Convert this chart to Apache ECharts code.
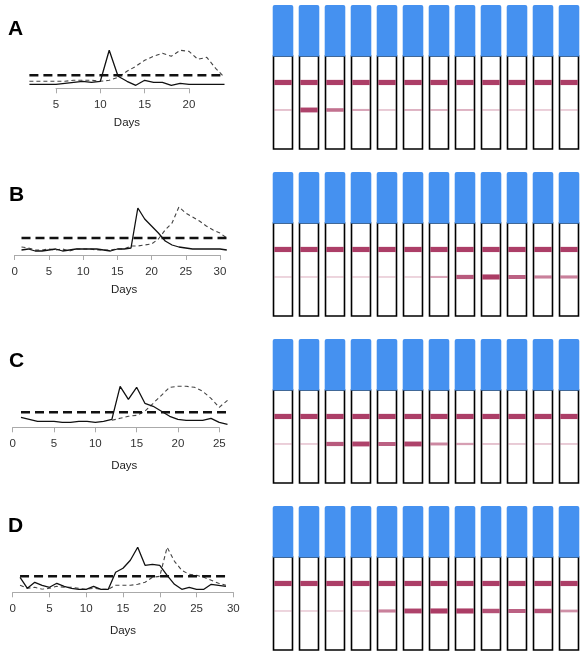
<!DOCTYPE html>
<html>
<head>
<meta charset="utf-8">
<script src="https://cdn.jsdelivr.net/npm/echarts@6/dist/echarts.min.js"></script>
<style>
html,body{margin:0;padding:0;background:#fff;}
#chart{width:583px;height:657px;}
</style>
</head>
<body>
<div id="chart"></div>
<script>
// ---------- DATA ----------
const daysA = [2,3,4,5,6,7,8,9,10,11,12,13,14,15,16,17,18,19,20,21,22,23,24];
const solidA = [0.1,0.1,0.1,0.1,0.2,0.3,0.4,0.3,0.4,3.5,0.9,0.4,0.0,0.5,0.3,0.3,0.0,0.2,0.1,0.1,0.1,0.1,0.1];
const dashedA = [0.4,0.4,0.4,0.4,0.4,0.5,0.5,0.5,0.4,0.5,0.8,1.4,1.9,2.5,2.9,3.2,2.9,3.5,3.4,2.6,2.8,1.7,0.8];
const thresholdA = 1.0;
const ticksA = [5,10,15,20];

const daysB = [1,2,3,4,5,6,7,8,9,10,11,12,13,14,15,16,17,18,19,20,21,22,23,24,25,26,27,28,29,30,31];
const solidB = [0.2,0.3,0.1,0.1,0.2,0.3,0.1,0.2,0.3,0.3,0.3,0.3,0.2,0.1,0.3,0.3,0.4,4.4,3.3,2.6,1.9,1.1,0.7,0.5,0.4,0.3,0.3,0.3,0.3,0.3,0.2];
const dashedB = [0.5,0.4,0.2,0.2,0.3,0.2,0.3,0.1,0.3,0.3,0.3,0.2,0.2,0.2,0.3,0.3,0.6,0.6,0.7,0.8,1.3,2.2,2.9,4.5,3.9,3.5,3.1,2.6,2.2,1.9,1.4];
const thresholdB = 1.4;
const ticksB = [0,5,10,15,20,25,30];

const daysC = [1,2,3,4,5,6,7,8,9,10,11,12,13,14,15,16,17,18,19,20,21,22,23,24,25,26];
const solidC = [0.7,0.5,0.3,0.3,0.3,0.2,0.2,0.3,0.3,0.2,0.3,0.5,3.8,2.5,3.7,2.1,1.8,1.3,0.8,0.5,0.4,0.4,0.4,0.6,0.2,0.0];
const dashedC = [null,null,null,null,null,null,null,null,null,null,null,0.4,0.6,0.8,0.9,1.3,2.1,2.9,3.7,3.8,3.8,3.7,3.3,2.6,1.7,2.4];
const thresholdC = 1.2;
const ticksC = [0,5,10,15,20,25];

const daysD = [1,2,3,4,5,6,7,8,9,10,11,12,13,14,15,16,17,18,19,20,21,22,23,24,25,26,27,28,29];
const solidD = [1.2,0.1,0.7,0.4,0.2,0.6,0.3,0.1,0.0,0.0,0.3,0.0,0.0,1.7,2.1,2.9,4.2,2.4,2.5,2.4,1.4,0.5,0.0,0.2,0.0,0.0,0.5,0.4,0.3];
const dashedD = [0.4,0.1,0.2,0.0,0.1,0.3,0.2,0.2,0.1,0.0,0.1,0.0,0.0,0.4,0.4,0.4,0.5,0.7,1.2,1.3,4.2,2.8,1.9,1.5,1.4,1.2,0.9,0.6,0.4];
const thresholdD = 1.3;
const ticksD = [0,5,10,15,20,25,30];

// test strips: 12 strips per row, test-line intensity (0..1); control line always present
const stripLabels = ['1','2','3','4','5','6','7','8','9','10','11','12'];
const testA = [0.15,0.9,0.6,0.25,0.12,0.2,0.2,0.2,0.12,0.1,0.1,0.1];
const testB = [0.08,0.08,0.08,0.08,0.08,0.08,0.25,0.75,0.95,0.7,0.5,0.5];
const testC = [0.1,0.1,0.75,0.9,0.7,0.9,0.45,0.3,0.15,0.12,0.12,0.12];
const testD = [0.08,0.08,0.08,0.08,0.5,0.9,0.95,0.95,0.8,0.7,0.8,0.4];
const controlA = [1,1,1,1,1,1,1,1,1,1,1,1];
const controlB = [1,1,1,1,1,1,1,1,1,1,1,1];
const controlC = [1,1,1,1,1,1,1,1,1,1,1,1];
const controlD = [1,1,1,1,1,1,1,1,1,1,1,1];

// ---------- LAYOUT ----------
const panels = [
  {label:'A', days:daysA, solid:solidA, dashed:dashedA, thr:thresholdA, ticks:ticksA, test:testA, control:controlA,
   dataLeft:29.4, dataWidth:195.1, zeroY:85.3, yMax:4, axisLeft:56, axisWidth:133, axisY:88.3, letterTop:19, letterLeft:8, nameGap:32, stripTop:5},
  {label:'B', days:daysB, solid:solidB, dashed:dashedB, thr:thresholdB, ticks:ticksB, test:testB, control:controlB,
   dataLeft:21.5, dataWidth:205.3, zeroY:252, yMax:5, axisLeft:14.7, axisWidth:205.3, axisY:255, letterTop:185, letterLeft:9, nameGap:32, stripTop:172},
  {label:'C', days:daysC, solid:solidC, dashed:dashedC, thr:thresholdC, ticks:ticksC, test:testC, control:controlC,
   dataLeft:21.0, dataWidth:206.5, zeroY:424.3, yMax:4, axisLeft:12.7, axisWidth:206.6, axisY:427.3, letterTop:351, letterLeft:9, nameGap:36, stripTop:339},
  {label:'D', days:daysD, solid:solidD, dashed:dashedD, thr:thresholdD, ticks:ticksD, test:testD, control:controlD,
   dataLeft:20.05, dataWidth:205.9, zeroY:589.3, yMax:5, axisLeft:12.7, axisWidth:220.6, axisY:592.3, letterTop:516, letterLeft:8, nameGap:36, stripTop:506}
];

const FONT = 'Liberation Sans, Arial, Helvetica, sans-serif';
const BLUE = '#4591f0';
const MAG = '#a8345f';

const grid = [], xAxis = [], yAxis = [], series = [], title = [];

panels.forEach((p) => {
  title.push({text:p.label, left:p.letterLeft, top:p.letterTop, padding:0,
    textStyle:{fontFamily:FONT, fontWeight:'bold', fontSize:21, color:'#000'}});

  // data grid
  const gData = grid.length;
  grid.push({left:p.dataLeft, width:p.dataWidth, top:p.zeroY - p.yMax*10, height:p.yMax*10});
  xAxis.push({type:'value', gridIndex:gData, min:p.days[0], max:p.days[p.days.length-1],
    axisLine:{show:false}, axisTick:{show:false}, axisLabel:{show:false}, splitLine:{show:false},
    name:'Days', nameLocation:'middle', nameGap:p.nameGap,
    nameTextStyle:{fontFamily:FONT, fontSize:11.5, color:'#222'}});
  yAxis.push({type:'value', gridIndex:gData, min:0, max:p.yMax, show:false, splitLine:{show:false}});

  const solidData = p.days.map((d,i)=>[d,p.solid[i]]);
  const dashedData = p.days.map((d,i)=>[d,p.dashed[i]]);
  const thrData = [[p.days[0],p.thr],[p.days[p.days.length-1],p.thr]];
  series.push({type:'line', xAxisIndex:gData, yAxisIndex:gData, data:thrData, symbol:'none', silent:true,
    lineStyle:{color:'#111', width:2.5, type:[9,5]}, z:3});
  series.push({type:'line', xAxisIndex:gData, yAxisIndex:gData, data:dashedData, symbol:'none', silent:true,
    lineStyle:{color:'#444', width:1.1, type:[4,3]}, z:2});
  series.push({type:'line', xAxisIndex:gData, yAxisIndex:gData, data:solidData, symbol:'none', silent:true,
    lineStyle:{color:'#111', width:1.3}, z:4});

  // axis grid (R-style axis spanning only the tick range)
  const gAx = grid.length;
  grid.push({left:p.axisLeft, width:p.axisWidth, top:p.axisY - 10, height:10});
  xAxis.push({type:'value', gridIndex:gAx, min:p.ticks[0], max:p.ticks[p.ticks.length-1], interval:5,
    axisLine:{show:true, lineStyle:{color:'#aaa', width:1}},
    axisTick:{show:true, length:5, lineStyle:{color:'#aaa', width:1}},
    axisLabel:{show:true, margin:11, fontFamily:FONT, fontSize:11.5, color:'#333', showMinLabel:true, showMaxLabel:true},
    splitLine:{show:false}});
  yAxis.push({type:'value', gridIndex:gAx, min:0, max:1, show:false, splitLine:{show:false}});

  // strip grid
  const gS = grid.length;
  grid.push({left:270, width:312, top:p.stripTop, height:144});
  xAxis.push({type:'category', gridIndex:gS, data:stripLabels, show:false, boundaryGap:true});
  yAxis.push({type:'value', gridIndex:gS, min:0, max:1, show:false, splitLine:{show:false}});
  const stripData = p.test.map((v,i)=>[i, v, p.control[i]]);
  series.push({type:'custom', xAxisIndex:gS, yAxisIndex:gS, data:stripData, silent:true, clip:false,
    encode:{x:0, y:1},
    renderItem:function(params, api){
      const idx = api.value(0);
      const v = api.value(1);
      const c = api.value(2);
      const cx = api.coord([idx, 0])[0];
      const yTop = api.coord([idx, 1])[1];
      const yBot = api.coord([idx, 0])[1];
      const H = yBot - yTop;
      const w = api.size([1, 0])[0] * 0.73;
      const x0 = cx - w/2;
      const blueH = H * 0.354;
      const ctrlY = yTop + H * 0.538;
      const testY = yTop + H * 0.729;
      const th = 1 + 4.3 * v;
      return {type:'group', children:[
        {type:'rect', shape:{x:x0, y:yTop + blueH, width:w, height:H - blueH},
          style:{fill:'#fff', stroke:'#000', lineWidth:1.6}},
        {type:'rect', shape:{x:x0 - 0.8, y:yTop, width:w + 1.6, height:blueH + 0.5, r:[2,2,0,0]},
          style:{fill:BLUE}},
        {type:'rect', shape:{x:x0 + 0.8, y:ctrlY - 2.6*c, width:w - 1.6, height:5.2*c},
          style:{fill:MAG, opacity:0.95}},
        {type:'rect', shape:{x:x0 + 0.8, y:testY - th/2, width:w - 1.6, height:th},
          style:{fill:MAG, opacity:0.25 + 0.75*v}}
      ]};
    }});
});

const chart = echarts.init(document.getElementById('chart'), null, {renderer:'canvas'});
chart.setOption({animation:false, backgroundColor:'#fff', title, grid, xAxis, yAxis, series});
</script>
</body>
</html>
